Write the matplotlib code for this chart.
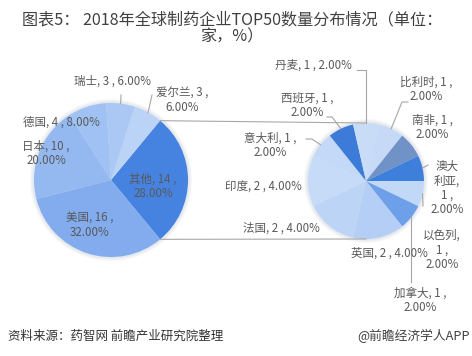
import matplotlib
matplotlib.use('Agg')
import matplotlib.pyplot as plt
from matplotlib.patches import Circle
import numpy as np

plt.rcParams['font.family'] = ['Noto Sans CJK SC', 'DejaVu Sans']

W, H = 472, 356  # canvas in pixels, axes use the same units (y up)

title = '图表5： 2018年全球制药企业TOP50数量分布情况（单位：\n家，%）'
source = '资料来源：药智网 前瞻产业研究院整理'
brand = '@前瞻经济学人APP'

# main pie, counter-clockwise starting with "其他"
main_names = ['其他', '爱尔兰', '瑞士', '德国', '日本', '美国']
main_counts = [14, 3, 3, 4, 10, 16]
main_colors = ['#4683e0', '#bad3f6', '#abc8f4', '#a0c1f3', '#94b9f1', '#82acee']

# second pie = breakdown of "其他", clockwise from 3 o'clock
sub_names = ['以色列', '加拿大', '英国', '法国', '印度', '意大利',
             '西班牙', '丹麦', '比利时', '南非', '澳大利亚']
sub_counts = [1, 1, 2, 2, 2, 1, 1, 1, 1, 1, 1]
sub_colors = ['#c2d8f7', '#6e9fe9', '#b4cef5', '#bcd4f6', '#c6dbf7', '#c4d9f7',
              '#3d7bd9', '#c8dcf8', '#c6daf7', '#7192c6', '#3f7fdc']

total = sum(main_counts)

# label layout: name -> (x px, y px from top, wrap mode)
main_lab = {'其他': (153, 186, 2), '爱尔兰': (182, 100, 2), '瑞士': (113, 81, 1),
            '德国': (61, 122, 1), '日本': (46, 153, 2), '美国': (90, 225, 2)}
sub_lab = {'丹麦': (313, 65, 1), '西班牙': (307, 105, 2), '意大利': (270, 145, 2),
           '印度': (263, 187, 1), '法国': (281, 228, 1), '英国': (389, 253, 1),
           '以色列': (442, 250, 3), '加拿大': (420, 300, 2), '比利时': (426, 89, 2),
           '南非': (432, 127, 2), '澳大利亚': (447, 188, 4)}


def label(name, n, mode):
    pct = f'{n / total * 100:.2f}%'
    if mode == 1:
        return f'{name}, {n} , {pct}'
    if mode == 2:
        return f'{name}, {n} ,\n{pct}'
    if mode == 3:
        return f'{name},\n{n} ,\n{pct}'
    half = len(name) // 2
    return f'{name[:half]}\n{name[half:]},\n{n} ,\n{pct}'


fig = plt.figure(figsize=(W / 100, H / 100), dpi=100)
ax = fig.add_axes([0, 0, 1, 1])

c1, r1 = (111, H - 180), 77
c2, r2 = (366, H - 181), 58

# soft glow around the pies
for c, r in [(c1, r1), (c2, r2)]:
    for k in range(4):
        ax.add_patch(Circle(c, r + 1 + k, color='#9aa6b8', alpha=0.07, lw=0, zorder=0))

start1 = -main_counts[0] / total * 180
w1, _ = ax.pie(main_counts, colors=main_colors, startangle=start1, counterclock=True,
               center=c1, radius=r1, wedgeprops=dict(linewidth=0))
w2, _ = ax.pie(sub_counts, colors=sub_colors, startangle=0, counterclock=False,
               center=c2, radius=r2, wedgeprops=dict(linewidth=0))

# connector lines between the "其他" slice and the second pie
th = np.deg2rad(main_counts[0] / total * 180)
for s in (1, -1):
    x0 = c1[0] + r1 * np.cos(th)
    y0 = c1[1] + s * r1 * np.sin(th)
    ax.plot([x0, c2[0]], [y0, c2[1] + s * r2], color='#a8a8a8', lw=0.8, zorder=1)

lab_kw = dict(ha='center', va='center', fontsize=8.3, color='#595959', linespacing=1.15)
for wd, name, n in zip(w1, main_names, main_counts):
    x, y, m = main_lab[name]
    ax.text(x, H - y, label(name, n, m), zorder=5, **lab_kw)
for wd, name, n in zip(w2, sub_names, sub_counts):
    x, y, m = sub_lab[name]
    ax.text(x, H - y, label(name, n, m), zorder=5, **lab_kw)


def edge(wedge):
    a = np.deg2rad((wedge.theta1 + wedge.theta2) / 2)
    return wedge.center[0] + wedge.r * np.cos(a), wedge.center[1] + wedge.r * np.sin(a)


# leader lines: wedge -> list of elbow points (px, y from top)
leaders = {('m', '瑞士'): [(121, 95)], ('m', '爱尔兰'): [(152, 95)],
           ('s', '丹麦'): [(357, 70), (edge(w2[7])[0], 70)],
           ('s', '西班牙'): [(327, 117), (332, 117)],
           ('s', '意大利'): [(306, 139), (312, 139)],
           ('s', '比利时'): [(408, 102), (402, 102)],
           ('s', '澳大利亚'): [(428, 165)],
           ('s', '以色列'): [(423, 206)],
           ('s', '加拿大'): [(edge(w2[1])[0], 282)]}
for (pie, name), pts in leaders.items():
    wd = w1[main_names.index(name)] if pie == 'm' else w2[sub_names.index(name)]
    ex, ey = edge(wd)
    xs = [p[0] for p in pts] + [ex]
    ys = [H - p[1] for p in pts] + [ey]
    ax.plot(xs, ys, color='#a6a6a6', lw=0.8, zorder=4)

ax.text(W / 2 - 4, H - 28, title, ha='center', va='center', fontsize=11.6,
        color='#404040', linespacing=1.0)
ax.text(8, H - 336, source, ha='left', va='center', fontsize=9, color='#333333',
        style='italic')
ax.text(470, H - 336, brand, ha='right', va='center', fontsize=9.2, color='#404040')

ax.set_xlim(0, W)
ax.set_ylim(0, H)
ax.set_aspect('equal')
ax.axis('off')
fig.savefig('out.png', dpi=100, facecolor='white')
